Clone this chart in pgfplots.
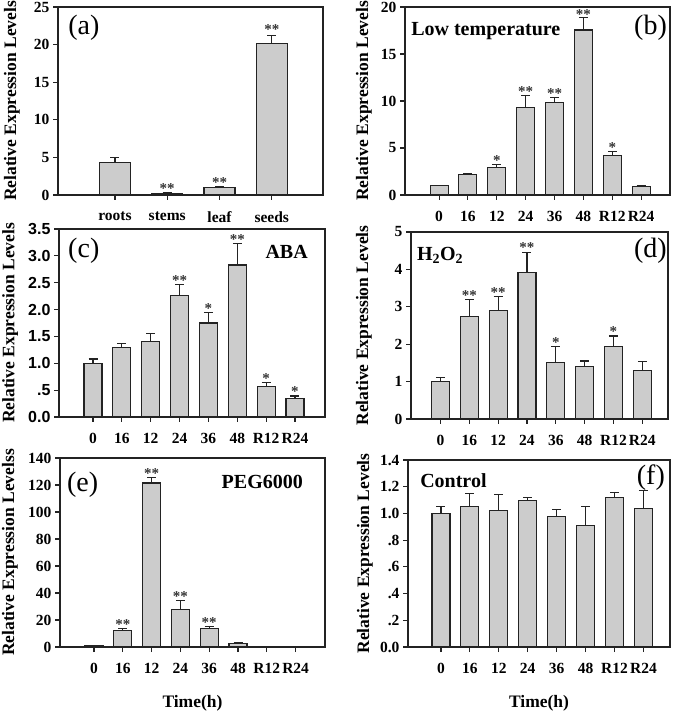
\documentclass[border=0pt]{standalone}
\usepackage{fontspec}
\setmainfont{Liberation Serif}
\newfontfamily\arialfont{Liberation Sans}
\usepackage{pgfplots}
\pgfplotsset{compat=1.18}
\definecolor{barfill}{RGB}{204,204,204}
\definecolor{edge}{RGB}{35,35,35}
\definecolor{stargray}{RGB}{50,50,50}

\pgfplotsset{
 panel/.style={
  scale only axis,
  anchor=south west,
  axis line style={edge, line width=1.1pt},
  tick style={edge, line width=1.1pt},
  tick align=outside,
  tick pos=left,
  major tick length=5pt,
  ymin=0,
  tick label style={font=\bfseries\fontsize{15.5}{15.5}\selectfont, text=black},
  ylabel={Relative Expression Levels},
  ylabel style={font=\bfseries\fontsize{17.5}{17.5}\selectfont, anchor=center},
  xticklabel style={yshift=-8pt},
  clip=false,
 },
 timepanel/.style={
  panel,
  xtick={0,...,7},
  xticklabels={0,16,12,24,36,48,R12,R24},
 },
 bars/.style={ybar, fill=barfill, draw=edge, line width=1.1pt,
   error bars/.cd, y dir=plus, y explicit, error mark=|,
   error bar style={edge, line width=1.1pt},
   error mark options={edge, line width=1.1pt, mark size=4.5pt}},
 stars/.style={draw=none, mark=none, nodes near coords, point meta=explicit symbolic,
   nodes near coords style={anchor=south, inner sep=0pt, yshift=-1pt, text=stargray,
   font=\bfseries\fontsize{15}{15}\selectfont}},
}
\newcommand{\annfont}{\bfseries\fontsize{20}{20}\selectfont}
\newcommand{\letfont}{\fontsize{28}{28}\selectfont}

\begin{document}
\begin{tikzpicture}
\useasboundingbox (0,0) rectangle (675pt,711pt);

% (a)
\begin{axis}[panel, at={(58pt,516pt)}, width=265pt, height=188pt,
  xmin=-1.09, xmax=3.98, xtick={0,1,2,3}, xticklabels={roots,stems,leaf,seeds},
  ymax=25, ytick={0,5,10,15,20,25}, yticklabels={0,5,10,15,20,25},
  ylabel style={at={(axis description cs:-0.174,0.5)}}]
\addplot[bar width=31pt, bars] coordinates {(0,4.3) +- (0,0.7) (1,0.25) +- (0,0.05) (2,1.0) +- (0,0.1) (3,20.2) +- (0,1.0)};
\addplot[stars] coordinates {(1,0.3) [**] (2,1.1) [**] (3,21.4) [**]};
\node[anchor=north west, inner sep=0pt, font=\letfont] at (rel axis cs:0.038,0.957) {(a)};
\end{axis}

% (b)
\begin{axis}[timepanel, at={(405pt,516pt)}, width=265pt, height=188pt,
  xmin=-1.18, xmax=8.0,
  ymax=20, ytick={0,5,10,15,20}, yticklabels={0,5,10,15,20},
  ylabel style={at={(axis description cs:-0.155,0.5)}}]
\addplot[bar width=18pt, bars] coordinates {(0,1.0)+-(0,0.05) (1,2.2)+-(0,0.05) (2,2.95)+-(0,0.25) (3,9.3)+-(0,1.25) (4,9.85)+-(0,0.5) (5,17.55)+-(0,1.35) (6,4.2)+-(0,0.4) (7,0.9)+-(0,0.12)};
\addplot[stars] coordinates {(2,3.2) [*] (3,10.55) [**] (4,10.35) [**] (5,18.75) [**] (6,4.6) [*]};
\node[anchor=north east, inner sep=0pt, font=\letfont] at (rel axis cs:0.989,0.957) {(b)};
\node[anchor=north west, inner sep=0pt, font=\annfont] at (rel axis cs:0.023,0.92) {Low temperature};
\end{axis}

% (c)
\begin{axis}[timepanel, at={(59pt,294pt)}, width=266pt, height=188pt,
  xmin=-1.18, xmax=8.04,
  ymax=3.5, ytick={0,0.5,1,1.5,2,2.5,3,3.5}, yticklabels={0.0,.5,1.0,1.5,2.0,2.5,3.0,3.5},
  yticklabel style={font=\arialfont\bfseries\fontsize{16}{16}\selectfont},
  ylabel style={at={(axis description cs:-0.184,0.5)}}]
\addplot[bar width=18pt, bars] coordinates {(0,1.0)+-(0,0.08) (1,1.29)+-(0,0.08) (2,1.41)+-(0,0.15) (3,2.26)+-(0,0.21) (4,1.75)+-(0,0.2) (5,2.83)+-(0,0.4) (6,0.56)+-(0,0.08) (7,0.34)+-(0,0.05)};
\addplot[stars] coordinates {(3,2.47) [**] (4,1.95) [*] (5,3.23) [**] (6,0.64) [*] (7,0.39) [*]};
\node[anchor=north west, inner sep=0pt, font=\letfont] at (rel axis cs:0.034,0.952) {(c)};
\node[anchor=north east, inner sep=0pt, font=\annfont] at (rel axis cs:0.936,0.915) {ABA};
\end{axis}

% (d)
\begin{axis}[timepanel, at={(411pt,292pt)}, width=257pt, height=187pt,
  xmin=-1.02, xmax=7.89,
  ymax=5, ytick={0,1,2,3,4,5}, yticklabels={0,1,2,3,4,5},
  ylabel style={at={(axis description cs:-0.183,0.5)}}]
\addplot[bar width=18pt, bars] coordinates {(0,1.0)+-(0,0.11) (1,2.74)+-(0,0.46) (2,2.9)+-(0,0.37) (3,3.92)+-(0,0.54) (4,1.52)+-(0,0.41) (5,1.40)+-(0,0.15) (6,1.95)+-(0,0.27) (7,1.30)+-(0,0.23)};
\addplot[stars] coordinates {(1,3.2) [**] (2,3.27) [**] (3,4.46) [**] (4,1.93) [*] (6,2.22) [*]};
\node[anchor=north east, inner sep=0pt, font=\letfont] at (rel axis cs:0.996,0.968) {(d)};
\node[anchor=north west, inner sep=0pt, font=\annfont] at (rel axis cs:0.023,0.92) {H\textsubscript{2}O\textsubscript{2}};
\end{axis}

% (e)
\begin{axis}[timepanel, at={(60pt,64pt)}, width=265pt, height=189pt,
  xmin=-1.18, xmax=8.02,
  ymax=140, ytick={0,20,40,60,80,100,120,140}, yticklabels={0,20,40,60,80,100,120,140},
  ylabel={Relative Expression Levelss},
  ylabel style={at={(axis description cs:-0.189,0.5)}},
  xlabel={Time(h)}, xlabel style={font=\bfseries\fontsize{17.5}{17.5}\selectfont, at={(axis description cs:0.5,-0.298)}, anchor=center}]
\addplot[bar width=18pt, bars] coordinates {(0,1.0)+-(0,0.2) (1,11.9)+-(0,1.5) (2,121.5)+-(0,4.2) (3,27.6)+-(0,6.8) (4,13.4)+-(0,1.8) (5,2.8)+-(0,0.4) (6,0.4)+-(0,0.1) (7,0.4)+-(0,0.1)};
\addplot[stars] coordinates {(1,13.4) [**] (2,125.7) [**] (3,34.4) [**] (4,15.2) [**]};
\node[anchor=north west, inner sep=0pt, font=\letfont] at (rel axis cs:0.026,0.926) {(e)};
\node[anchor=north east, inner sep=0pt, font=\annfont] at (rel axis cs:0.917,0.91) {PEG6000};
\end{axis}

% (f)
\begin{axis}[timepanel, at={(408pt,64pt)}, width=262pt, height=187pt,
  xmin=-1.14, xmax=7.92,
  ymax=1.4, ytick={0,0.2,0.4,0.6,0.8,1.0,1.2,1.4}, yticklabels={0.0,.2,.4,.6,.8,1.0,1.2,1.4},
  ylabel style={at={(axis description cs:-0.164,0.5)}},
  xlabel={Time(h)}, xlabel style={font=\bfseries\fontsize{17.5}{17.5}\selectfont, at={(axis description cs:0.5,-0.30)}, anchor=center}]
\addplot[bar width=18pt, bars] coordinates {(0,1.0)+-(0,0.05) (1,1.05)+-(0,0.1) (2,1.02)+-(0,0.12) (3,1.10)+-(0,0.02) (4,0.98)+-(0,0.05) (5,0.91)+-(0,0.14) (6,1.12)+-(0,0.04) (7,1.04)+-(0,0.13)};
\node[anchor=north east, inner sep=0pt, font=\letfont] at (rel axis cs:0.981,0.973) {(f)};
\node[anchor=north west, inner sep=0pt, font=\annfont] at (rel axis cs:0.046,0.93) {Control};
\end{axis}
\end{tikzpicture}
\end{document}
